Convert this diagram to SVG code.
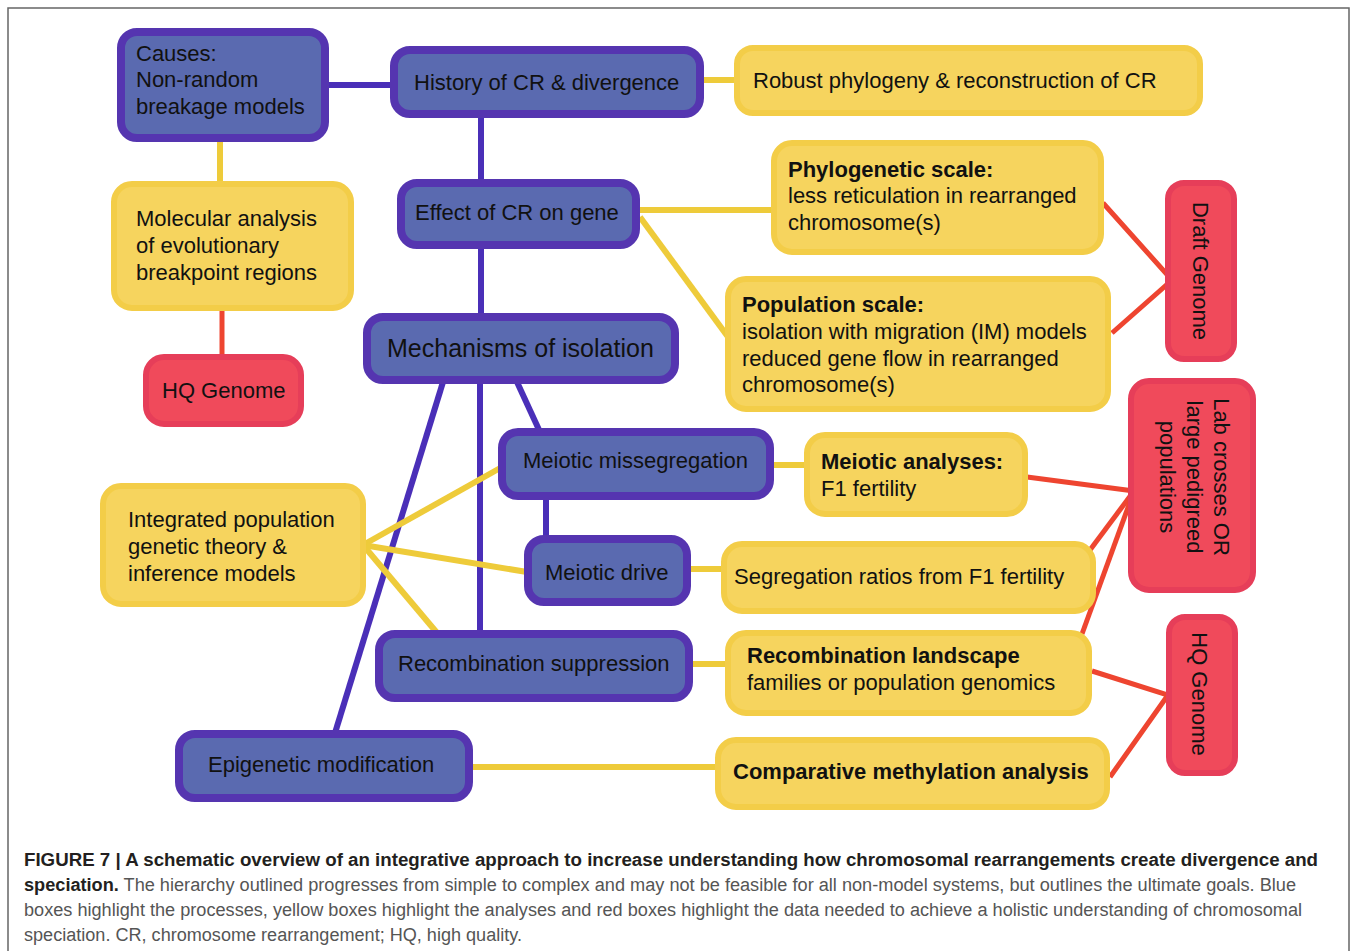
<svg xmlns="http://www.w3.org/2000/svg" width="1357" height="951" viewBox="0 0 1357 951">
<style>
.b{fill:#5a6ab0;stroke:#5535b0;stroke-width:8}
.y{fill:#f6d45e;stroke:#f3cd48;stroke-width:6}
.r{fill:#f04a5b;stroke:#e63e59;stroke-width:6}
text{font-family:"Liberation Sans",Arial,sans-serif;fill:#111;font-size:22px}
.bd{font-weight:bold}
.cb{stroke:#4a2fb8;stroke-width:6;fill:none}
.cy{stroke:#eecb3a;stroke-width:6;fill:none}
.cr{stroke:#ee4530;stroke-width:5;fill:none;stroke-linejoin:miter}
.cap{font-size:18px;fill:#555}
.capb{font-weight:bold;fill:#231f20}
</style>
<path d="M8,951 V8 H1349 V951" fill="none" stroke="#666" stroke-width="1.5"/>
<g id="connectors">
<line class="cb" x1="329" y1="85" x2="392" y2="85"/>
<line class="cb" x1="481" y1="116" x2="481" y2="181"/>
<line class="cb" x1="481" y1="247" x2="481" y2="315"/>
<line class="cb" x1="517" y1="382" x2="540" y2="432"/>
<line class="cb" x1="480" y1="382" x2="480" y2="633"/>
<line class="cb" x1="443" y1="382" x2="335" y2="733"/>
<line class="cb" x1="546" y1="498" x2="546" y2="538"/>
<line class="cy" x1="702" y1="80" x2="736" y2="80"/>
<line class="cy" x1="220" y1="140" x2="220" y2="184"/>
<line class="cy" x1="638" y1="210" x2="773" y2="210"/>
<line class="cy" x1="640" y1="217" x2="731" y2="341"/>
<line class="cy" x1="363" y1="545" x2="502" y2="467"/>
<line class="cy" x1="363" y1="545" x2="527" y2="572"/>
<line class="cy" x1="363" y1="545" x2="438" y2="634"/>
<line class="cy" x1="772" y1="465" x2="806" y2="465"/>
<line class="cy" x1="689" y1="569" x2="723" y2="569"/>
<line class="cy" x1="691" y1="664" x2="727" y2="664"/>
<line class="cy" x1="471" y1="767" x2="717" y2="767"/>
<line class="cr" x1="222" y1="310" x2="222" y2="357"/>
<polyline class="cr" points="1103,203 1172,280 1112,333"/>
<line class="cr" x1="1027" y1="477" x2="1134" y2="491"/>
<line class="cr" x1="1090" y1="550" x2="1134" y2="491"/>
<line class="cr" x1="1082" y1="634" x2="1134" y2="491"/>
<polyline class="cr" points="1092,671 1168,695 1110,777"/>
</g>
<g id="causes"><rect class="b" x="121" y="32" width="204" height="106" rx="16"/>
<text x="136" y="61">Causes:</text><text x="136" y="87">Non-random</text><text x="136" y="114">breakage models</text></g>
<g id="history"><rect class="b" x="394" y="50" width="306" height="64" rx="16"/>
<text x="414" y="90">History of CR &amp; divergence</text></g>
<g id="robust"><rect class="y" x="737" y="48" width="463" height="65" rx="16"/>
<text x="753" y="88">Robust phylogeny &amp; reconstruction of CR</text></g>
<g id="effect"><rect class="b" x="401" y="183" width="235" height="62" rx="16"/>
<text x="415" y="220">Effect of CR on gene</text></g>
<g id="molecular"><rect class="y" x="114" y="184" width="237" height="124" rx="18"/>
<text x="136" y="226">Molecular analysis</text><text x="136" y="253">of evolutionary</text><text x="136" y="280">breakpoint regions</text></g>
<g id="phylo"><rect class="y" x="774" y="143" width="327" height="109" rx="18"/>
<text x="788" y="177" class="bd">Phylogenetic scale:</text><text x="788" y="203">less reticulation in rearranged</text><text x="788" y="230">chromosome(s)</text></g>
<g id="draft"><rect class="r" x="1168" y="183" width="66" height="176" rx="16"/>
<text transform="translate(1193,271) rotate(90)" text-anchor="middle">Draft Genome</text></g>
<g id="population"><rect class="y" x="728" y="279" width="380" height="130" rx="18"/>
<text x="742" y="312" class="bd">Population scale:</text><text x="742" y="339">isolation with migration (IM) models</text><text x="742" y="366">reduced gene flow in rearranged</text><text x="742" y="392">chromosome(s)</text></g>
<g id="mechanisms"><rect class="b" x="367" y="317" width="308" height="63" rx="16"/>
<text x="387" y="357" style="font-size:25px">Mechanisms of isolation</text></g>
<g id="hq1"><rect class="r" x="146" y="357" width="155" height="67" rx="18"/>
<text x="162" y="398">HQ Genome</text></g>
<g id="lab"><rect class="r" x="1131" y="381" width="122" height="209" rx="18"/>
<text transform="translate(1214,477) rotate(90)" text-anchor="middle"><tspan x="0" y="0">Lab crosses OR</tspan><tspan x="0" y="27">large pedigreed</tspan><tspan x="0" y="54">populations</tspan></text></g>
<g id="missegregation"><rect class="b" x="502" y="432" width="268" height="64" rx="16"/>
<text x="523" y="468">Meiotic missegregation</text></g>
<g id="meioticanalyses"><rect class="y" x="807" y="435" width="218" height="79" rx="18"/>
<text x="821" y="469" class="bd">Meiotic analyses:</text><text x="821" y="496">F1 fertility</text></g>
<g id="integrated"><rect class="y" x="103" y="486" width="260" height="118" rx="18"/>
<text x="128" y="527">Integrated population</text><text x="128" y="554">genetic theory &amp;</text><text x="128" y="581">inference models</text></g>
<g id="drive"><rect class="b" x="528" y="539" width="159" height="63" rx="16"/>
<text x="545" y="580">Meiotic drive</text></g>
<g id="segregation"><rect class="y" x="724" y="544" width="369" height="67" rx="18"/>
<text x="734" y="584">Segregation ratios from F1 fertility</text></g>
<g id="recsupp"><rect class="b" x="379" y="634" width="310" height="64" rx="16"/>
<text x="398" y="671">Recombination suppression</text></g>
<g id="reclandscape"><rect class="y" x="728" y="633" width="361" height="80" rx="18"/>
<text x="747" y="663" class="bd">Recombination landscape</text><text x="747" y="690">families or population genomics</text></g>
<g id="hq2"><rect class="r" x="1169" y="617" width="66" height="156" rx="16"/>
<text transform="translate(1192,694) rotate(90)" text-anchor="middle">HQ Genome</text></g>
<g id="epigenetic"><rect class="b" x="179" y="734" width="290" height="64" rx="16"/>
<text x="208" y="772">Epigenetic modification</text></g>
<g id="methylation"><rect class="y" x="718" y="740" width="389" height="67" rx="18"/>
<text x="733" y="779" class="bd">Comparative methylation analysis</text></g>
<g id="caption">
<text class="cap" x="24" y="866" textLength="1294" lengthAdjust="spacingAndGlyphs"><tspan class="capb">FIGURE 7 | A schematic overview of an integrative approach to increase understanding how chromosomal rearrangements create divergence and</tspan></text>
<text class="cap" x="24" y="891" textLength="1272" lengthAdjust="spacingAndGlyphs"><tspan class="capb">speciation.</tspan> The hierarchy outlined progresses from simple to complex and may not be feasible for all non-model systems, but outlines the ultimate goals. Blue</text>
<text class="cap" x="24" y="916" textLength="1278" lengthAdjust="spacingAndGlyphs">boxes highlight the processes, yellow boxes highlight the analyses and red boxes highlight the data needed to achieve a holistic understanding of chromosomal</text>
<text class="cap" x="24" y="941" textLength="498" lengthAdjust="spacingAndGlyphs">speciation. CR, chromosome rearrangement; HQ, high quality.</text>
</g>
</svg>
